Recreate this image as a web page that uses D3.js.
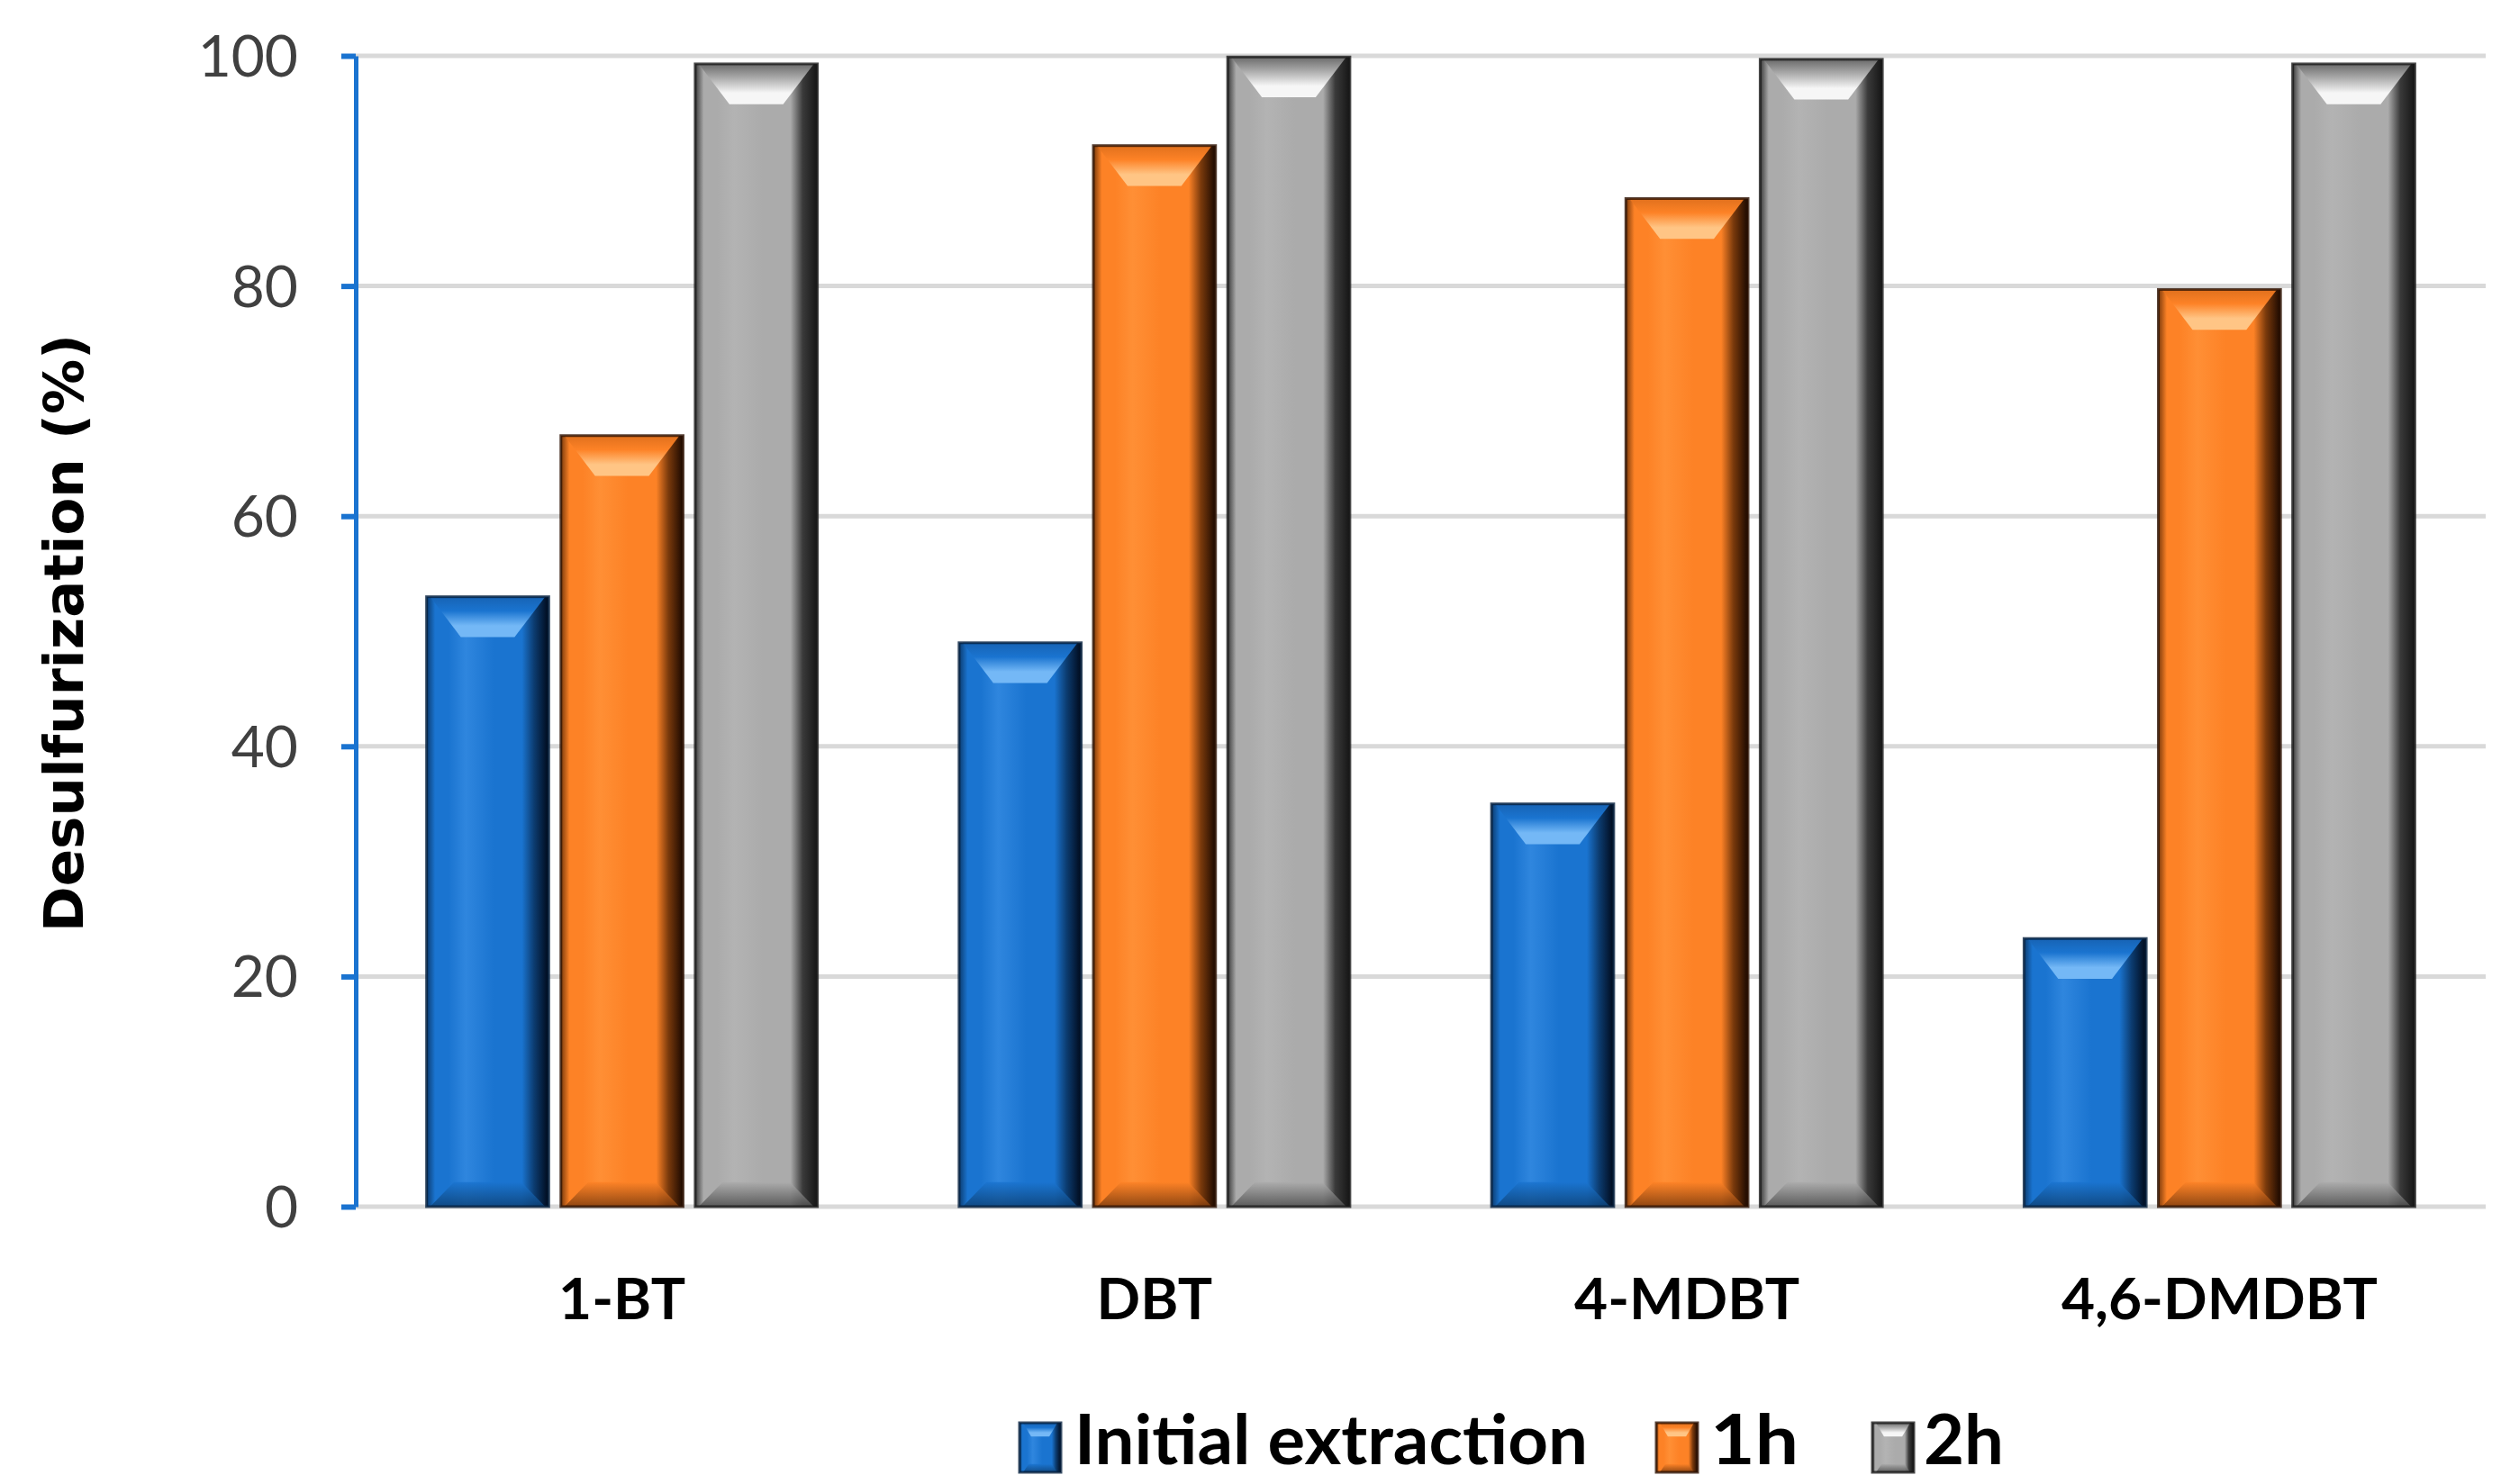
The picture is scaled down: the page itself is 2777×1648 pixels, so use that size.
<!DOCTYPE html>
<html>
<head>
<meta charset="utf-8">
<script src="https://cdn.jsdelivr.net/npm/d3@7"></script>
<style>
  html, body { margin: 0; padding: 0; background: #ffffff; }
  svg { display: block; }
</style>
</head>
<body>
<svg id="chart" width="2777" height="1648"></svg>
<script>
// ---- data ----
const categories = ["1-BT", "DBT", "4-MDBT", "4,6-DMDBT"];
const seriesNames = ["Initial extraction", "1h", "2h"];
const initialExtraction = [53, 49, 35, 23.3];
const oneHour = [67, 92.2, 87.6, 79.7];
const twoHours = [99.3, 99.9, 99.7, 99.3];
const yTicks = [0, 20, 40, 60, 80, 100];
const yTitle = "Desulfurization (%)";

(function () {
const seriesValues = [initialExtraction, oneHour, twoHours];
const palette = {
  "Initial extraction": { base: "#1a74d0", light: "#2f86de", edgeL: "#0c3c70", edgeR: "#00091a", hi: "#74b8f6", topDark: "#1763b4", bot: "#0e4378", stroke: "#06203f" },
  "1h": { base: "#fd8226", light: "#ff8f35", edgeL: "#7a3a0c", edgeR: "#1a0800", hi: "#ffc585", topDark: "#e0701d", bot: "#7d3c0e", stroke: "#2e1304" },
  "2h": { base: "#ababab", light: "#b3b3b3", edgeL: "#3a3a3a", edgeR: "#151515", hi: "#f6f6f6", topDark: "#6a6a6a", bot: "#4d4d4d", stroke: "#1a1a1a" }
};

const svg = d3.select("#chart");
const pLeft = 395, pRight = 2760, pTop = 62, pBottom = 1340;

const x0 = d3.scaleBand().domain(categories).range([pLeft, pRight]).paddingInner(0.266).paddingOuter(0.133);
const x1 = d3.scaleBand().domain(seriesNames).range([0, x0.bandwidth()]).paddingInner(0.09).paddingOuter(0);
const y = d3.scaleLinear().domain([0, 100]).range([pBottom, pTop]);

// ---- gradients ----
const defs = svg.append("defs");
seriesNames.forEach((s, i) => {
  const c = palette[s];
  const gb = defs.append("linearGradient").attr("id", "body" + i).attr("x1", "0").attr("x2", "1").attr("y1", "0").attr("y2", "0");
  [[0, c.edgeL], [0.07, c.base], [0.18, c.base], [0.32, c.light], [0.55, c.base], [0.78, c.base], [0.88, c.edgeL], [1, c.edgeR]]
    .forEach(([o, col]) => gb.append("stop").attr("offset", o).attr("stop-color", col));
  const gt = defs.append("linearGradient").attr("id", "top" + i).attr("x1", "0").attr("x2", "0").attr("y1", "0").attr("y2", "1");
  [[0, c.topDark], [0.35, c.base], [0.72, c.hi], [1, c.hi]]
    .forEach(([o, col]) => gt.append("stop").attr("offset", o).attr("stop-color", col));
  const gbt = defs.append("linearGradient").attr("id", "bot" + i).attr("x1", "0").attr("x2", "0").attr("y1", "0").attr("y2", "1");
  [[0, c.base], [1, c.bot]]
    .forEach(([o, col]) => gbt.append("stop").attr("offset", o).attr("stop-color", col));
});

// ---- gridlines ----
svg.append("g").selectAll("line").data(yTicks).join("line")
  .attr("x1", pLeft).attr("x2", pRight)
  .attr("y1", d => y(d)).attr("y2", d => y(d))
  .attr("stroke", "#d9d9d9").attr("stroke-width", 5);

// ---- bars ----
function drawBar(g, bx, by, bw, bh, i) {
  const inset = bw * 0.28, depthTop = Math.min(bw * 0.33, bh / 2), depthBot = Math.min(bw * 0.2, bh / 2);
  g.append("rect").attr("x", bx).attr("y", by).attr("width", bw).attr("height", bh)
    .attr("fill", `url(#body${i})`);
  g.append("path")
    .attr("d", `M${bx + 4},${by} L${bx + bw - 4},${by} L${bx + bw - inset},${by + depthTop} L${bx + inset},${by + depthTop} Z`)
    .attr("fill", `url(#top${i})`);
  g.append("path")
    .attr("d", `M${bx + 4},${by + bh} L${bx + bw - 4},${by + bh} L${bx + bw - inset * 0.8},${by + bh - depthBot} L${bx + inset * 0.8},${by + bh - depthBot} Z`)
    .attr("fill", `url(#bot${i})`).attr("opacity", 0.85);
  g.append("rect").attr("x", bx).attr("y", by).attr("width", bw).attr("height", bh)
    .attr("fill", "none").attr("stroke", palette[seriesNames[i]].stroke).attr("stroke-width", 3).attr("stroke-opacity", 0.8);
}

const groups = svg.append("g").selectAll("g").data(categories).join("g")
  .attr("transform", d => `translate(${x0(d)},0)`);
groups.each(function (cat, ci) {
  const g = d3.select(this);
  seriesNames.forEach((s, si) => {
    const v = seriesValues[si][ci];
    drawBar(g, x1(s), y(v), x1.bandwidth(), y(0) - y(v), si);
  });
});

// ---- y axis ----
const yAxis = d3.axisLeft(y).tickValues(yTicks).tickSizeInner(16).tickSizeOuter(0).tickPadding(48);
const ya = svg.append("g").attr("transform", `translate(${pLeft},0)`).call(yAxis);
ya.select(".domain").attr("stroke", "#1a73d0").attr("stroke-width", 5);
ya.selectAll(".tick line").attr("stroke", "#1a73d0").attr("stroke-width", 6);
ya.selectAll(".tick text").attr("fill", "#404040").attr("font-family", "Lato, 'Liberation Sans', sans-serif")
  .attr("font-size", 64).attr("dy", "0.35em");

// ---- x labels ----
svg.append("g").selectAll("text").data(categories).join("text")
  .attr("x", d => x0(d) + x0.bandwidth() / 2).attr("y", 1465)
  .attr("text-anchor", "middle").attr("font-family", "Lato, sans-serif").attr("font-weight", "bold")
  .attr("font-size", 64).attr("fill", "#000").text(d => d);

// ---- y title ----
svg.append("text").attr("transform", `translate(92,${(374 + 1032) / 2}) rotate(-90)`)
  .attr("text-anchor", "middle").attr("font-family", "'DejaVu Sans', sans-serif").attr("font-weight", "bold")
  .attr("font-size", 61).attr("fill", "#000").text(yTitle);

// ---- legend ----
const legendItems = [
  { name: seriesNames[0], sx: 1132, tx: 1193, tw: 570 },
  { name: seriesNames[1], sx: 1839, tx: 1899, tw: 98 },
  { name: seriesNames[2], sx: 2079, tx: 2136, tw: 89 }
];
const lg = svg.append("g");
legendItems.forEach((it, i) => {
  const g = lg.append("g");
  drawBar(g, it.sx, 1580, 46, 55, i);
  g.append("text").attr("x", it.tx).attr("y", 1626)
    .attr("font-family", "Lato, sans-serif").attr("font-weight", "bold").attr("font-size", 76)
    .attr("textLength", it.tw).attr("lengthAdjust", "spacingAndGlyphs")
    .attr("fill", "#000").text(it.name);
});
})();
</script>
</body>
</html>
